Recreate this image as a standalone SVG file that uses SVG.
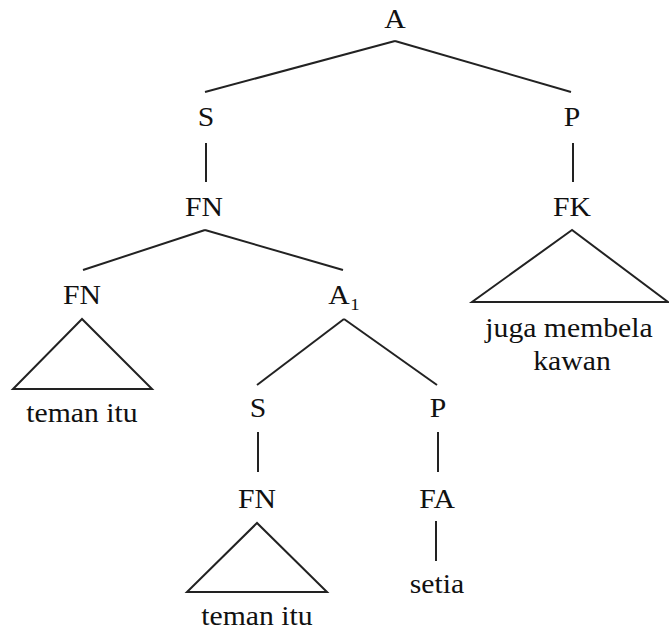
<svg xmlns="http://www.w3.org/2000/svg" width="669" height="631" viewBox="0 0 669 631">
<style>
text{font-family:"Liberation Serif","Times New Roman",serif;font-size:27px;fill:#111;text-anchor:middle}
.sub{font-size:17px}
.c line,.c polygon{stroke:#222;stroke-width:2;fill:none;stroke-linejoin:miter}
</style>
<rect width="669" height="631" fill="#fff"/>
<g class="c" id="connectors">
<line x1="395" y1="41" x2="205" y2="92"/>
<line x1="395" y1="41" x2="571" y2="92"/>
<line x1="206" y1="143" x2="206" y2="182"/>
<line x1="573" y1="143" x2="573" y2="182"/>
<line x1="205" y1="230" x2="83" y2="270"/>
<line x1="205" y1="230" x2="343" y2="270"/>
<polygon points="82,319 13,389 152,389"/>
<polygon points="572,230 472,302 668,302"/>
<line x1="344" y1="319" x2="257" y2="385"/>
<line x1="344" y1="319" x2="437" y2="385"/>
<line x1="258" y1="432" x2="258" y2="472"/>
<line x1="438" y1="432" x2="438" y2="472"/>
<polygon points="257,523 187,592 327,592"/>
<line x1="436" y1="521" x2="436" y2="561"/>
</g>
<g id="n-A"><text transform="translate(395,28) scale(1.1,1)">A</text></g>
<g id="n-S"><text transform="translate(206,126) scale(1.1,1)">S</text></g>
<g id="n-P"><text transform="translate(572,126) scale(1.1,1)">P</text></g>
<g id="n-FN1"><text transform="translate(204,216) scale(1.1,1)">FN</text></g>
<g id="n-FK"><text transform="translate(572,216) scale(1.1,1)">FK</text></g>
<g id="n-FN2"><text transform="translate(82,304) scale(1.1,1)">FN</text></g>
<g id="n-A1"><text transform="translate(339,304) scale(1.1,1)">A</text><text class="sub" transform="translate(355,310) scale(1.1,1)">1</text></g>
<g id="n-teman1"><text transform="translate(82,422) scale(1.1,1)">teman itu</text></g>
<g id="n-juga"><text transform="translate(569,337) scale(1.1,1)">juga membela</text><text transform="translate(572,370) scale(1.1,1)">kawan</text></g>
<g id="n-S2"><text transform="translate(258,417) scale(1.1,1)">S</text></g>
<g id="n-P2"><text transform="translate(438,417) scale(1.1,1)">P</text></g>
<g id="n-FN3"><text transform="translate(257,508) scale(1.1,1)">FN</text></g>
<g id="n-FA"><text transform="translate(437,508) scale(1.1,1)">FA</text></g>
<g id="n-teman2"><text transform="translate(257,625) scale(1.1,1)">teman itu</text></g>
<g id="n-setia"><text transform="translate(437,593) scale(1.1,1)">setia</text></g>
</svg>
